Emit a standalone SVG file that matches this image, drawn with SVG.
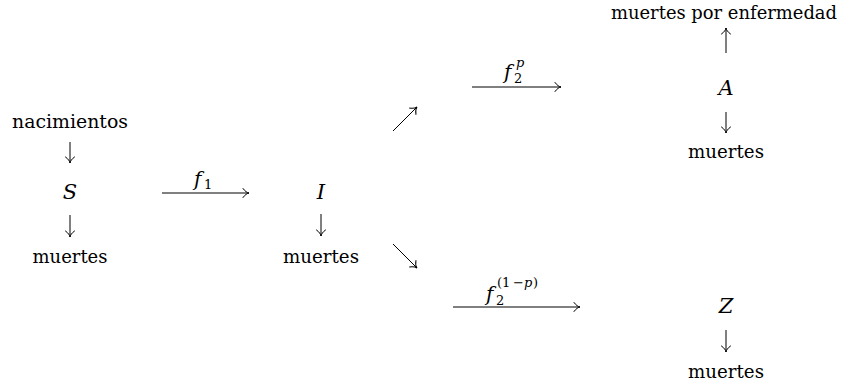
<svg xmlns="http://www.w3.org/2000/svg" width="841" height="382" viewBox="0 0 841 382" font-family="'DejaVu Serif', 'Liberation Serif', serif">
<style>
  text, tspan { font-family: "DejaVu Serif", "Liberation Serif", serif; }
  .t { font-size: 19px; fill: #000; text-anchor: middle; }
  .m { font-size: 21px; font-style: italic; fill: #000; text-anchor: middle; }
  .lab { font-size: 20px; font-style: italic; fill: #000; }
  .sub { font-size: 13px; font-style: normal; fill: #000; }
  .subi { font-size: 13px; font-style: italic; fill: #000; }
  .c { stroke: #000; stroke-width: 1; fill: none; marker-end: url(#ah); }
</style>
<defs>
  <marker id="ah" markerUnits="userSpaceOnUse" viewBox="-8 -6 9 12" refX="0" refY="0" markerWidth="9" markerHeight="12" orient="auto">
    <path d="M-6,-4.5 C-4,-1.6 -1.6,-0.3 0,0 C-1.6,0.3 -4,1.6 -6,4.5" fill="none" stroke="#000" stroke-width="1" stroke-linecap="round"/>
  </marker>
</defs>

<g id="nacimientos"><text class="t" x="70" y="128" textLength="116" lengthAdjust="spacingAndGlyphs">nacimientos</text></g>
<g id="S"><text class="m" x="70" y="199">S</text></g>
<g id="muertes-S"><text class="t" x="70" y="263" textLength="75" lengthAdjust="spacingAndGlyphs">muertes</text></g>

<g id="I"><text class="m" x="321" y="199">I</text></g>
<g id="muertes-I"><text class="t" x="321" y="263" textLength="76" lengthAdjust="spacingAndGlyphs">muertes</text></g>

<g id="muertes-enfermedad"><text class="t" x="724" y="19" style="font-size:18px" textLength="226" lengthAdjust="spacingAndGlyphs">muertes por enfermedad</text></g>
<g id="A"><text class="m" x="726" y="95">A</text></g>
<g id="muertes-A"><text class="t" x="726" y="158" textLength="76" lengthAdjust="spacingAndGlyphs">muertes</text></g>

<g id="Z"><text class="m" x="726" y="313">Z</text></g>
<g id="muertes-Z"><text class="t" x="726" y="378" textLength="76" lengthAdjust="spacingAndGlyphs">muertes</text></g>

<g id="connectors">
  <line class="c" x1="70" y1="142" x2="70" y2="163"/>
  <line class="c" x1="70" y1="215" x2="70" y2="237"/>
  <line class="c" x1="162" y1="193" x2="249" y2="193"/>
  <line class="c" x1="321" y1="214" x2="321" y2="236"/>
  <line class="c" x1="393" y1="131" x2="417" y2="107"/>
  <line class="c" x1="393" y1="244" x2="417" y2="268"/>
  <line class="c" x1="472" y1="87" x2="561" y2="87"/>
  <line class="c" x1="453" y1="307" x2="580" y2="307"/>
  <line class="c" x1="726" y1="53" x2="726" y2="28"/>
  <line class="c" x1="726" y1="112" x2="726" y2="133"/>
  <line class="c" x1="726" y1="330" x2="726" y2="352"/>
</g>

<g id="labels">
  <text><tspan class="lab" x="194" y="186">f</tspan><tspan class="sub" x="204" y="189">1</tspan></text>
  <text><tspan class="lab" x="504" y="79">f</tspan><tspan class="sub" x="514" y="83">2</tspan><tspan class="subi" x="516" y="67">p</tspan></text>
  <text><tspan class="lab" x="486" y="301">f</tspan><tspan class="sub" x="496" y="305">2</tspan><tspan class="sub" x="497" y="287">(1</tspan><tspan class="sub" x="513" y="287">−</tspan><tspan class="subi" x="524" y="287">p</tspan><tspan class="sub" x="533" y="287">)</tspan></text>
</g>
</svg>
